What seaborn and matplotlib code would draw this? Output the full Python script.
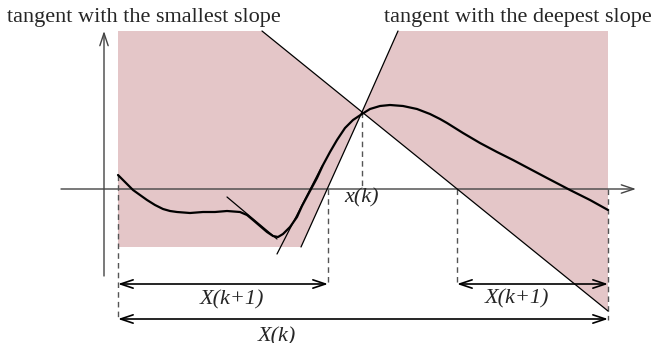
import numpy as np
import pandas as pd
import matplotlib.pyplot as plt
import seaborn as sns

# coordinates are in the picture's own pixel space (y grows downward)
curve_x = [118, 126, 133, 140, 147, 155, 163, 170, 177, 190, 203, 215, 227, 240,
           247, 253, 260, 267, 273, 278, 283, 290, 297, 302, 310, 317, 323, 330,
           337, 345, 353, 362, 370, 380, 390, 403, 417, 430, 440, 447, 463, 480,
           497, 513, 530, 547, 570, 590, 608]
curve_y = [175, 183, 190, 195, 200, 205, 209, 211, 212, 213, 212, 212, 211, 212,
           215, 220, 226, 232, 236, 237, 234, 227, 217, 206, 191, 178, 165, 152,
           140, 128, 120, 114, 109, 106, 105, 106, 109, 114, 119, 123, 133, 143,
           152, 160, 169, 178, 190, 200, 210]

xk = (362, 112)
shallow_x = [262, 362, 608]
shallow_y = [31, 112, 311]
steep_x = [398, 362, 301]
steep_y = [31, 112, 247]
dip_tangent_x = [227, 277]
dip_tangent_y = [197, 239]
rise_tangent_x = [277, 322]
rise_tangent_y = [254, 166]

left_region_x = [118, 262, 362, 301, 118]
left_region_y = [31, 31, 112, 247, 247]
right_region_x = [362, 398, 608, 608]
right_region_y = [112, 31, 31, 311]

axis_y = 189
axis_x = 104
dashed = [(118, 175, 320), (328, 189, 284), (362, 112, 189), (457, 189, 284), (608, 189, 320)]
intervals = [(118, 328, 284, 'X(k+1)', 232, 300),
             (457, 608, 284, 'X(k+1)', 517, 299),
             (118, 608, 319, 'X(k)', 277, 337)]

sns.set_style('white')
plt.rcParams['font.family'] = ['Liberation Serif', 'DejaVu Serif']

fig = plt.figure(figsize=(6.56, 3.43), dpi=100)
ax = fig.add_axes([0, 0, 1, 1])

pink = '#e4c6c8'
ax.fill(left_region_x, left_region_y, color=pink, lw=0, zorder=1)
ax.fill(right_region_x, right_region_y, color=pink, lw=0, zorder=1)

# axes with arrows
arrow_head = '->, head_length=0.9, head_width=0.3'
ax.annotate('', xy=(636, axis_y), xytext=(61, axis_y),
            arrowprops=dict(arrowstyle=arrow_head, lw=1.0, color='#444444',
                            shrinkA=0, shrinkB=0, mutation_scale=10), zorder=2)
ax.annotate('', xy=(axis_x, 31), xytext=(axis_x, 276),
            arrowprops=dict(arrowstyle=arrow_head, lw=1.0, color='#444444',
                            shrinkA=0, shrinkB=0, mutation_scale=10), zorder=2)

for x, y0, y1 in dashed:
    ax.plot([x, x], [y0, y1], color='#555555', lw=1.0, dashes=(4, 3), zorder=2)

# tangents
for lx, ly in [(shallow_x, shallow_y), (steep_x, steep_y),
               (dip_tangent_x, dip_tangent_y), (rise_tangent_x, rise_tangent_y)]:
    sns.lineplot(x=lx, y=ly, sort=False, estimator=None, color='black', lw=0.9, ax=ax, zorder=3)

sns.lineplot(x=curve_x, y=curve_y, sort=False, estimator=None, color='black', lw=1.6, ax=ax, zorder=4)

for x0, x1, y, label, tx, ty in intervals:
    ax.annotate('', xy=(x1, y), xytext=(x0, y),
                arrowprops=dict(arrowstyle='<->, head_length=0.9, head_width=0.3',
                                lw=1.2, color='black', shrinkA=0, shrinkB=0, mutation_scale=10),
                zorder=3)
    ax.text(tx, ty, label, fontsize=16, style='italic', ha='center', va='center')

ax.text(xk[0], 198, 'x(k)', fontsize=16, style='italic', ha='center', va='center')
ax.text(7, 22, 'tangent with the smallest slope', fontsize=16, ha='left', va='baseline')
ax.text(652, 22, 'tangent with the deepest slope', fontsize=16, ha='right', va='baseline')

ax.set_xlim(0, 656)
ax.set_ylim(343, 0)
ax.axis('off')

plt.savefig('out.png', dpi=100)
